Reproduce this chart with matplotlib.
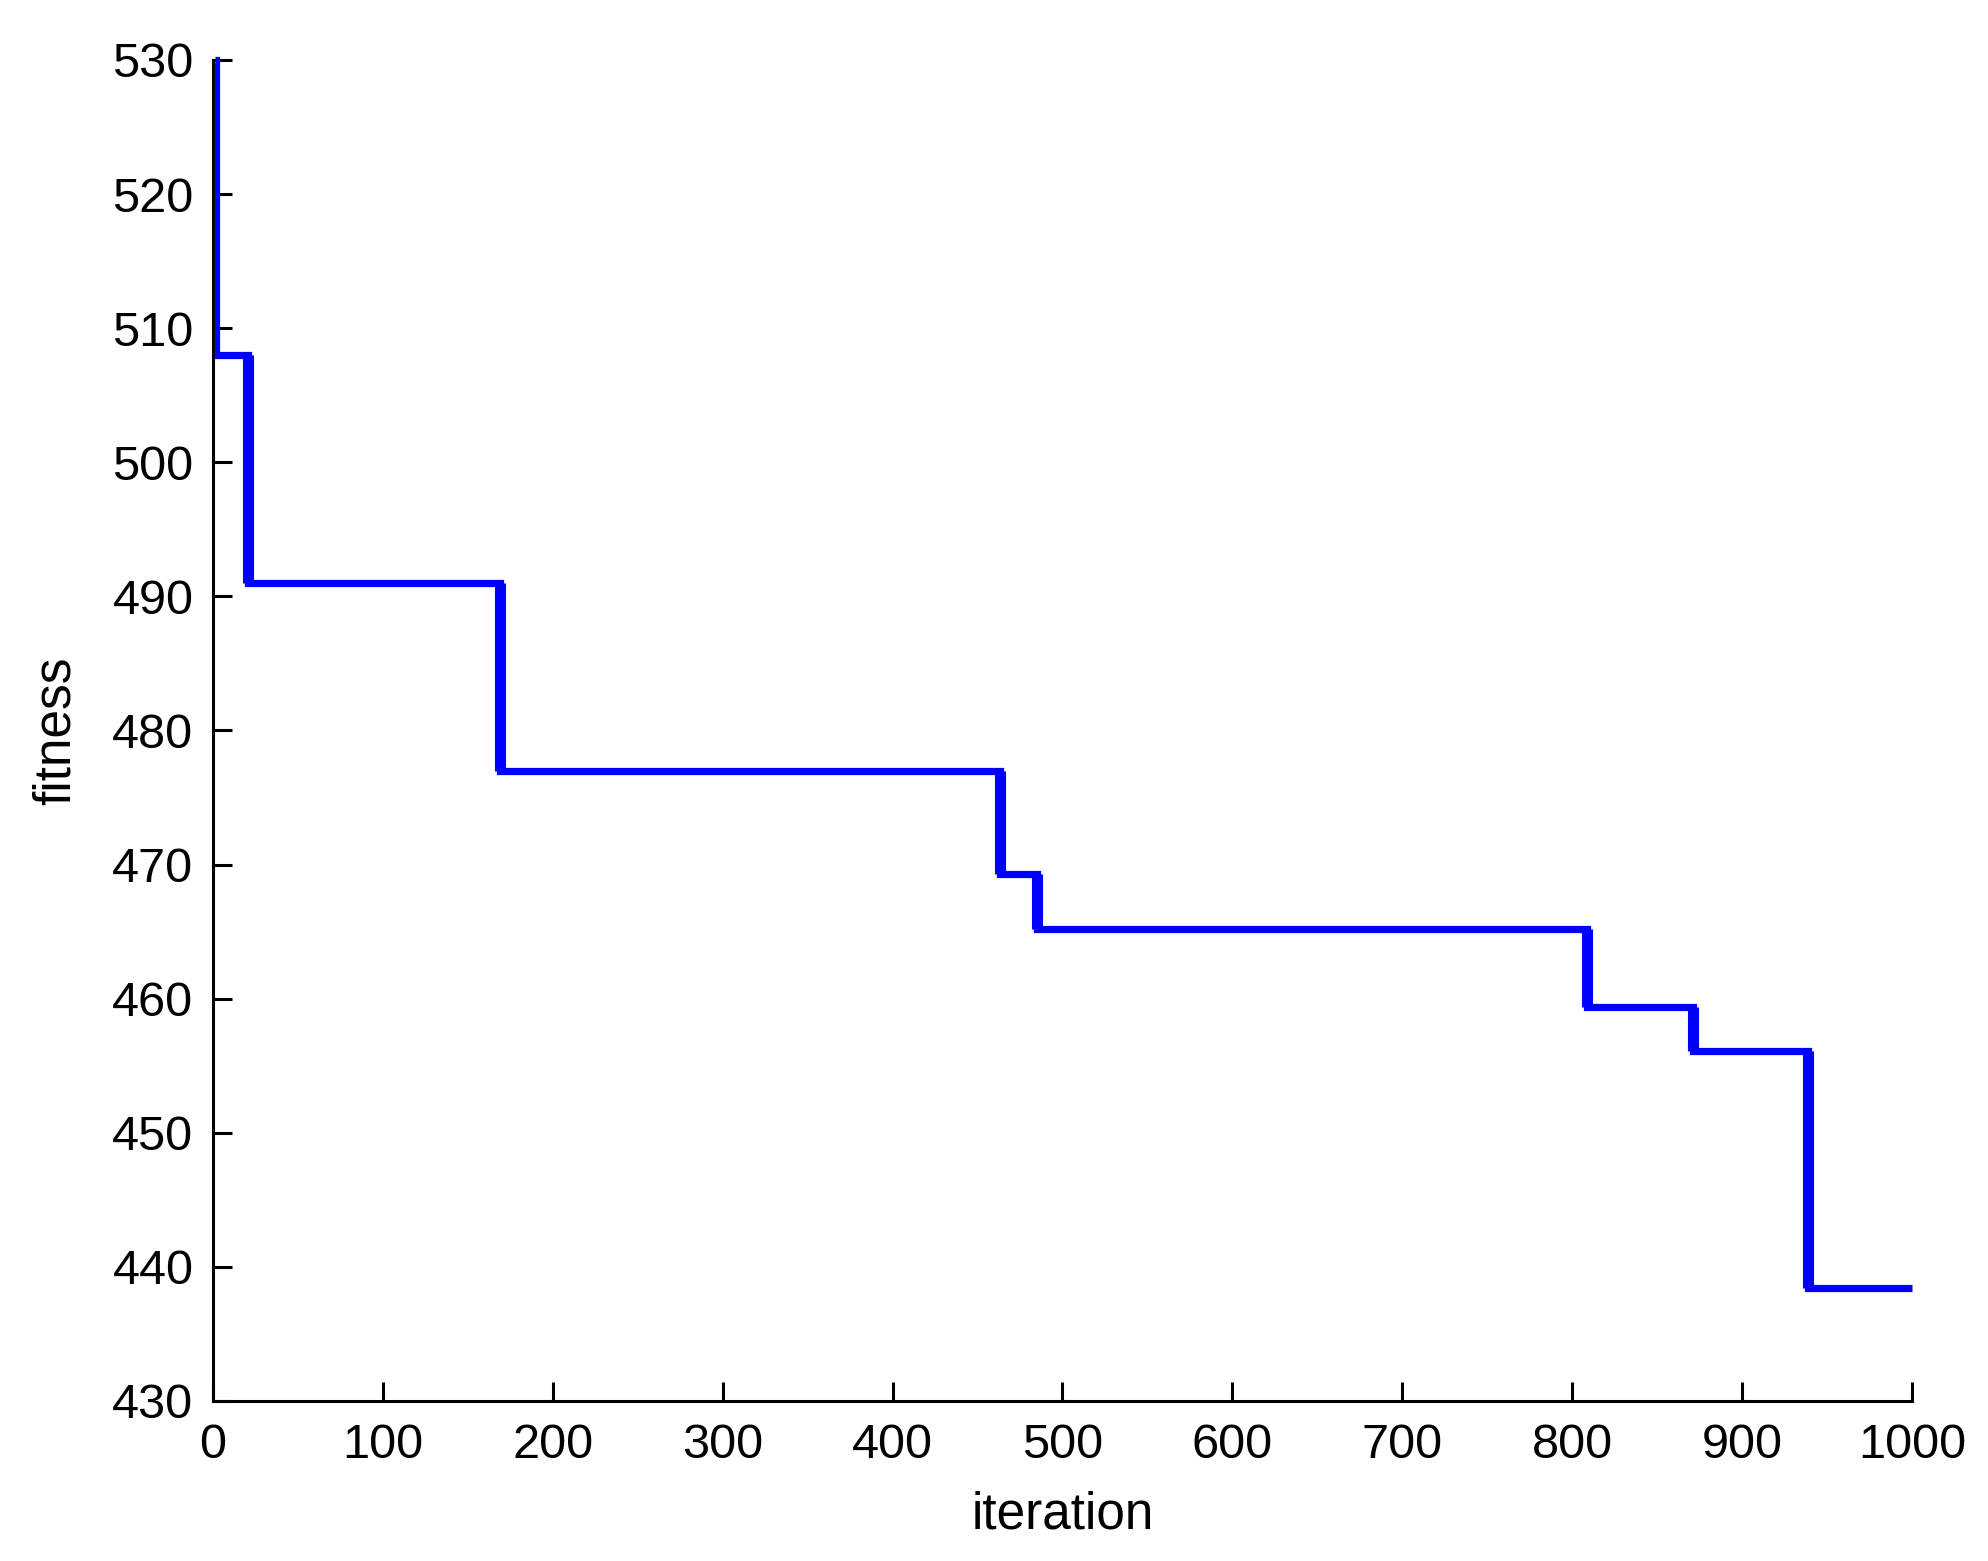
#required imports
import matplotlib.pyplot as plt
import numpy as np

#data: iteration where the best fitness changes, and the new value
change_iter = [1, 2, 20.4, 169, 463, 485, 808.6, 871, 939, 1000]
fitness = [530, 508, 491, 477, 469.3, 465.2, 459.4, 456.1, 438.4, 438.4]

x_ticks = np.arange(0, 1001, 100)
y_ticks = np.arange(430, 531, 10)

plt.rcParams['font.family'] = ['Liberation Sans', 'DejaVu Sans']

#define figure
fig = plt.figure(figsize=(19.88, 15.61), dpi=100)
ax = fig.add_axes([0.1071, 0.1025, 0.8547, 0.8591])

#define plots: flat parts as steps, the drops drawn a bit heavier like the matlab raster
ax.step(change_iter, fitness, where='post', color=(0, 0, 1), lw=5.2,
        solid_capstyle='butt', solid_joinstyle='miter', clip_on=False)
ax.vlines(change_iter[2:-1], fitness[2:-1], fitness[1:-2], color=(0, 0, 1),
          lw=8.0, capstyle='butt', clip_on=False)

ax.set_xlim(0, 1000)
ax.set_ylim(430, 530)
ax.set_xticks(x_ticks)
ax.set_yticks(y_ticks)

#matlab look: only left/bottom axis, ticks inside
for side in ['top', 'right']:
  ax.spines[side].set_visible(False)
for side in ['left', 'bottom']:
  ax.spines[side].set_linewidth(2.2)
ax.tick_params(direction='in', length=13.5, width=2.2, labelsize=35)
ax.tick_params(axis='x', pad=16)
ax.tick_params(axis='y', pad=14)

#add axis label
ax.set_xlabel("iteration", fontsize=37, va='top')
ax.set_ylabel("fitness", fontsize=37)
ax.xaxis.set_label_coords(0.5, -0.0665)
ax.yaxis.set_label_coords(-0.0775, 0.5)

plt.savefig("out.png", dpi=100)
